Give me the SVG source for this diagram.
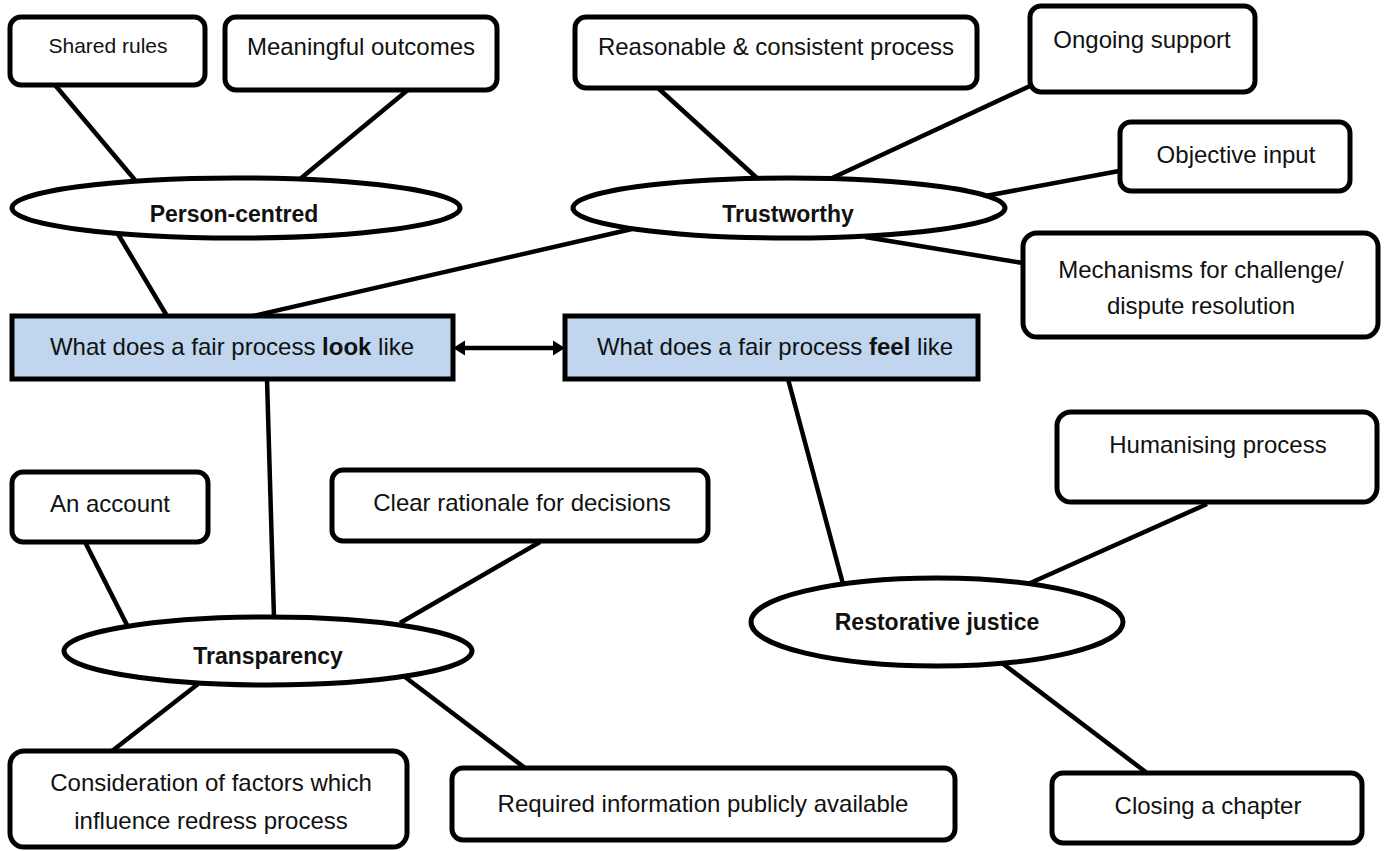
<svg xmlns="http://www.w3.org/2000/svg" width="1386" height="851" viewBox="0 0 1386 851">
<style>
.box{fill:#ffffff;stroke:#000;stroke-width:5}
.main{fill:#bfd6ee;stroke:#000;stroke-width:5}
.ell{fill:#ffffff;stroke:#000;stroke-width:5}
.ln{stroke:#000;stroke-width:4.5;fill:none}
.t{font-family:"Liberation Sans",Arial,sans-serif;font-size:24px;fill:#111;text-anchor:middle}
.s{font-size:21px}
.b{font-family:"Liberation Sans",Arial,sans-serif;font-size:23px;font-weight:bold;fill:#111;text-anchor:middle}
</style>
<defs>
<marker id="ah" markerUnits="userSpaceOnUse" markerWidth="13" markerHeight="16" refX="1" refY="8" orient="auto-start-reverse">
<path d="M0,0.5 L12,8 L0,15.5 z" fill="#000"/>
</marker>
</defs>
<rect width="1386" height="851" fill="#ffffff"/>
<g id="connectors">
<line class="ln" x1="55" y1="85" x2="135" y2="180"/>
<line class="ln" x1="415" y1="84" x2="300" y2="179"/>
<line class="ln" x1="118" y1="234" x2="167" y2="316"/>
<line class="ln" x1="632" y1="229" x2="253" y2="316"/>
<line class="ln" x1="658" y1="88" x2="758" y2="179"/>
<line class="ln" x1="1030" y1="86" x2="830" y2="179"/>
<line class="ln" x1="1119" y1="171" x2="980" y2="197"/>
<line class="ln" x1="865" y1="237" x2="1023" y2="263"/>
<line class="ln" x1="464" y1="348" x2="554" y2="348" marker-start="url(#ah)" marker-end="url(#ah)"/>
<line class="ln" x1="267" y1="379" x2="274" y2="618"/>
<line class="ln" x1="85" y1="542" x2="127" y2="625"/>
<line class="ln" x1="540" y1="542" x2="400" y2="623"/>
<line class="ln" x1="198" y1="684" x2="112" y2="751"/>
<line class="ln" x1="405" y1="677" x2="525" y2="768"/>
<line class="ln" x1="788" y1="379" x2="843" y2="584"/>
<line class="ln" x1="1207" y1="504" x2="1028" y2="584"/>
<line class="ln" x1="1002" y1="663" x2="1147" y2="773"/>
</g>
<g id="shared-rules"><rect class="box" x="10" y="17" width="195" height="68" rx="11"/><text class="t s" x="108" y="53">Shared rules</text></g>
<g id="meaningful-outcomes"><rect class="box" x="225" y="17" width="272" height="73" rx="11"/><text class="t" x="361" y="55">Meaningful outcomes</text></g>
<g id="reasonable-process"><rect class="box" x="575" y="17" width="402" height="71" rx="11"/><text class="t" x="776" y="55">Reasonable &amp; consistent process</text></g>
<g id="ongoing-support"><rect class="box" x="1030" y="6" width="225" height="86" rx="11"/><text class="t" x="1142" y="48">Ongoing support</text></g>
<g id="objective-input"><rect class="box" x="1120" y="122" width="230" height="69" rx="11"/><text class="t" x="1236" y="163">Objective input</text></g>
<g id="mechanisms"><rect class="box" x="1023" y="233" width="355" height="104" rx="14"/><text class="t" x="1201" y="278">Mechanisms for challenge/</text><text class="t" x="1201" y="314">dispute resolution</text></g>
<g id="person-centred"><ellipse class="ell" cx="236" cy="208" rx="224" ry="30"/><text class="b" x="234" y="222">Person-centred</text></g>
<g id="trustworthy"><ellipse class="ell" cx="789" cy="208" rx="216" ry="30"/><text class="b" x="788" y="222">Trustworthy</text></g>
<g id="look-like"><rect class="main" x="12" y="316" width="441" height="63"/><text class="t" x="232" y="355">What does a fair process <tspan font-weight="bold">look</tspan> like</text></g>
<g id="feel-like"><rect class="main" x="565" y="316" width="413" height="63"/><text class="t" x="775" y="355">What does a fair process <tspan font-weight="bold">feel</tspan> like</text></g>
<g id="an-account"><rect class="box" x="12" y="472" width="196" height="70" rx="11"/><text class="t" x="110" y="512">An account</text></g>
<g id="clear-rationale"><rect class="box" x="332" y="470" width="376" height="71" rx="11"/><text class="t" x="522" y="511">Clear rationale for decisions</text></g>
<g id="humanising"><rect class="box" x="1057" y="412" width="320" height="90" rx="14"/><text class="t" x="1218" y="453">Humanising process</text></g>
<g id="transparency"><ellipse class="ell" cx="268" cy="651" rx="204" ry="34"/><text class="b" x="268" y="664">Transparency</text></g>
<g id="restorative-justice"><ellipse class="ell" cx="937" cy="622" rx="186" ry="44"/><text class="b" x="937" y="630">Restorative justice</text></g>
<g id="consideration"><rect class="box" x="10" y="751" width="397" height="96" rx="14"/><text class="t" x="211" y="791">Consideration of factors which</text><text class="t" x="211" y="829">influence redress process</text></g>
<g id="required-info"><rect class="box" x="452" y="768" width="503" height="72" rx="11"/><text class="t" x="703" y="812">Required information publicly available</text></g>
<g id="closing-chapter"><rect class="box" x="1052" y="773" width="310" height="70" rx="11"/><text class="t" x="1208" y="814">Closing a chapter</text></g>
</svg>
